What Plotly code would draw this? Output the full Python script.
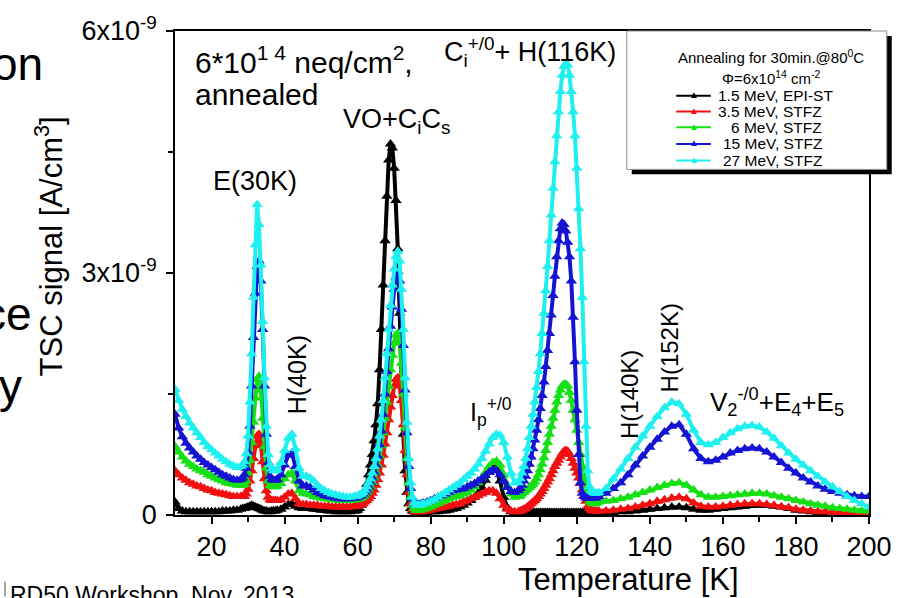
import plotly.graph_objects as go

# ---------------------------------------------------------------------------
# TSC spectra after annealing (30 min @ 80 C), fluence 6e14 neq/cm^2
# Signal values are given in units of 1e-9 A/cm^3
# ---------------------------------------------------------------------------

temperature_K = [
    10, 11, 12, 13, 14, 15, 16, 17, 18, 19, 20, 21, 22, 23, 24, 25, 26, 27, 28,
    28.5, 29, 29.5, 30, 30.5, 31, 31.5, 32, 32.5, 33, 33.5, 34, 34.5, 35, 35.5, 36, 36.5, 37, 37.5, 38,
    39, 40, 41, 42, 43, 44, 45, 46, 47, 48, 49, 50, 51, 52, 53, 54, 55, 56, 57, 58, 59,
    59.5, 60, 60.5, 61, 61.5, 62, 62.5, 63, 63.5, 64, 64.5, 65, 65.5, 66, 66.5, 67, 67.5, 68, 68.5, 69,
    69.5, 70, 70.5, 71, 71.5, 72, 72.5, 73, 73.5, 74, 74.5, 75, 75.5, 76, 76.5, 77, 77.5, 78,
    79, 80, 81, 82, 83, 84, 85, 86, 87, 88, 89, 90, 91, 92, 93, 94, 95, 96, 97, 98, 99, 100, 101, 102, 103, 104,
    104.5, 105, 105.5, 106, 106.5, 107, 107.5, 108, 108.5, 109, 109.5, 110, 110.5, 111, 111.5, 112, 112.5,
    113, 113.5, 114, 114.5, 115, 115.5, 116, 116.5, 117, 117.5, 118, 118.5, 119, 119.5, 120, 120.5, 121,
    121.5, 122, 122.5, 123, 123.5, 124, 124.5, 125, 125.5, 126,
    128, 130, 132, 134, 136, 138, 140, 142, 144, 146, 148, 150, 152, 154, 156, 158, 160, 162, 164, 166,
    168, 170, 172, 174, 176, 178, 180, 182, 184, 186, 188, 190, 192, 194, 196, 198, 200,
]

sig_1p5MeV_epi = [
    0.16, 0.08, 0.05, 0.04, 0.04, 0.04, 0.04, 0.04, 0.04, 0.04, 0.04, 0.04, 0.04, 0.05, 0.05, 0.05, 0.06, 0.06, 0.07,
    0.08, 0.08, 0.09, 0.10, 0.11, 0.12, 0.11, 0.10, 0.09, 0.08, 0.07, 0.06, 0.05, 0.05, 0.04, 0.04, 0.05, 0.05, 0.05, 0.06,
    0.07, 0.10, 0.13, 0.14, 0.11, 0.09, 0.08, 0.08, 0.08, 0.07, 0.07, 0.06, 0.06, 0.05, 0.05, 0.04, 0.04, 0.04, 0.04, 0.04, 0.05,
    0.05, 0.06, 0.08, 0.12, 0.18, 0.27, 0.38, 0.50, 0.62, 0.75, 0.92, 1.12, 1.38, 1.80, 2.30, 2.85, 3.40, 3.95, 4.40, 4.60,
    4.55, 4.30, 3.90, 3.30, 2.50, 1.70, 1.00, 0.55, 0.28, 0.14, 0.08, 0.05, 0.04, 0.03, 0.03, 0.03, 0.03, 0.03,
    0.03, 0.04, 0.04, 0.04, 0.05, 0.05, 0.06, 0.07, 0.08, 0.10, 0.12, 0.15, 0.18, 0.22, 0.27, 0.34, 0.43, 0.53, 0.60, 0.57,
    0.42, 0.22, 0.09, 0.04, 0.03, 0.03,
    0.03, 0.03, 0.03, 0.03, 0.03, 0.03, 0.03, 0.03, 0.03, 0.03, 0.03, 0.03, 0.03, 0.03, 0.03, 0.03, 0.03,
    0.03, 0.03, 0.03, 0.03, 0.03, 0.03, 0.03, 0.03, 0.03, 0.03, 0.03, 0.03, 0.03, 0.03, 0.03, 0.03, 0.03,
    0.03, 0.03, 0.03, 0.03, 0.03, 0.03, 0.03, 0.03, 0.03, 0.03,
    0.03, 0.03, 0.04, 0.04, 0.05, 0.06, 0.07, 0.08, 0.09, 0.10, 0.10, 0.09, 0.07, 0.06, 0.06, 0.07, 0.08, 0.09, 0.10, 0.11,
    0.12, 0.12, 0.12, 0.11, 0.10, 0.08, 0.06, 0.05, 0.04, 0.03, 0.03, 0.02, 0.02, 0.02, 0.02, 0.02, 0.02,
]

sig_3p5MeV_stfz = [
    0.55, 0.50, 0.46, 0.43, 0.40, 0.38, 0.36, 0.35, 0.33, 0.31, 0.30, 0.28, 0.27, 0.26, 0.25, 0.24, 0.23, 0.23, 0.23,
    0.23, 0.23, 0.26, 0.32, 0.42, 0.55, 0.70, 0.86, 0.98, 1.00, 0.88, 0.66, 0.45, 0.30, 0.22, 0.19, 0.18, 0.18, 0.18, 0.18,
    0.19, 0.22, 0.26, 0.27, 0.20, 0.14, 0.13, 0.13, 0.12, 0.12, 0.12, 0.11, 0.11, 0.11, 0.10, 0.10, 0.10, 0.10, 0.10, 0.10, 0.11,
    0.11, 0.11, 0.12, 0.13, 0.14, 0.16, 0.18, 0.20, 0.23, 0.27, 0.31, 0.37, 0.44, 0.52, 0.62, 0.74, 0.88, 1.02, 1.18, 1.34,
    1.48, 1.60, 1.68, 1.70, 1.62, 1.42, 1.12, 0.80, 0.50, 0.28, 0.14, 0.07, 0.05, 0.04, 0.04, 0.04, 0.04, 0.05,
    0.05, 0.06, 0.07, 0.08, 0.09, 0.10, 0.11, 0.12, 0.13, 0.14, 0.16, 0.18, 0.20, 0.22, 0.24, 0.26, 0.28, 0.30, 0.30, 0.27,
    0.20, 0.12, 0.07, 0.05, 0.04, 0.04,
    0.05, 0.06, 0.07, 0.08, 0.10, 0.12, 0.14, 0.16, 0.18, 0.20, 0.23, 0.26, 0.29, 0.33, 0.37, 0.41, 0.45,
    0.50, 0.55, 0.60, 0.64, 0.68, 0.72, 0.76, 0.79, 0.80, 0.79, 0.75, 0.70, 0.64, 0.58, 0.52, 0.46, 0.39,
    0.31, 0.24, 0.17, 0.11, 0.08, 0.06, 0.05, 0.05, 0.05, 0.05,
    0.05, 0.06, 0.07, 0.08, 0.10, 0.12, 0.14, 0.17, 0.19, 0.21, 0.22, 0.20, 0.15, 0.11, 0.10, 0.10, 0.11, 0.12, 0.13, 0.14,
    0.14, 0.14, 0.13, 0.12, 0.10, 0.09, 0.07, 0.06, 0.05, 0.04, 0.04, 0.03, 0.03, 0.02, 0.02, 0.02, 0.02,
]

sig_6MeV_stfz = [
    0.85, 0.78, 0.72, 0.67, 0.63, 0.60, 0.57, 0.55, 0.53, 0.50, 0.48, 0.46, 0.44, 0.42, 0.40, 0.39, 0.38, 0.37, 0.37,
    0.37, 0.38, 0.42, 0.52, 0.68, 0.90, 1.15, 1.45, 1.68, 1.72, 1.55, 1.20, 0.85, 0.58, 0.42, 0.37, 0.36, 0.35, 0.35, 0.36,
    0.39, 0.45, 0.50, 0.52, 0.42, 0.30, 0.27, 0.26, 0.25, 0.23, 0.22, 0.21, 0.20, 0.20, 0.19, 0.19, 0.18, 0.18, 0.18, 0.18, 0.19,
    0.19, 0.20, 0.20, 0.21, 0.23, 0.25, 0.28, 0.31, 0.35, 0.40, 0.46, 0.53, 0.62, 0.73, 0.86, 1.02, 1.20, 1.40, 1.60, 1.80,
    1.98, 2.13, 2.23, 2.25, 2.15, 1.88, 1.50, 1.08, 0.70, 0.40, 0.22, 0.12, 0.08, 0.06, 0.06, 0.06, 0.07, 0.07,
    0.08, 0.10, 0.12, 0.14, 0.16, 0.18, 0.20, 0.22, 0.23, 0.24, 0.26, 0.28, 0.31, 0.35, 0.40, 0.46, 0.53, 0.60, 0.65, 0.67,
    0.62, 0.50, 0.36, 0.26, 0.22, 0.23,
    0.24, 0.26, 0.28, 0.30, 0.32, 0.34, 0.36, 0.38, 0.41, 0.45, 0.50, 0.56, 0.63, 0.71, 0.80, 0.90, 1.00,
    1.10, 1.20, 1.30, 1.40, 1.48, 1.55, 1.60, 1.62, 1.62, 1.60, 1.52, 1.42, 1.30, 1.18, 1.05, 0.90, 0.75,
    0.60, 0.45, 0.32, 0.22, 0.17, 0.15, 0.14, 0.14, 0.15, 0.16,
    0.17, 0.18, 0.20, 0.22, 0.25, 0.28, 0.31, 0.34, 0.37, 0.39, 0.40, 0.37, 0.31, 0.25, 0.22, 0.22, 0.23, 0.24, 0.25, 0.26,
    0.27, 0.27, 0.26, 0.24, 0.22, 0.20, 0.18, 0.16, 0.14, 0.12, 0.11, 0.09, 0.08, 0.07, 0.06, 0.05, 0.05,
]

sig_15MeV_stfz = [
    1.25, 1.08, 0.97, 0.89, 0.83, 0.78, 0.73, 0.69, 0.65, 0.62, 0.59, 0.56, 0.53, 0.50, 0.48, 0.46, 0.44, 0.43, 0.44,
    0.46, 0.50, 0.58, 0.78, 1.10, 1.60, 2.20, 2.75, 3.08, 3.15, 2.90, 2.30, 1.60, 1.00, 0.65, 0.48, 0.44, 0.43, 0.43, 0.44,
    0.50, 0.62, 0.74, 0.77, 0.60, 0.42, 0.36, 0.36, 0.34, 0.31, 0.28, 0.26, 0.24, 0.23, 0.22, 0.21, 0.20, 0.20, 0.20, 0.20, 0.21,
    0.21, 0.22, 0.23, 0.24, 0.26, 0.28, 0.31, 0.35, 0.40, 0.46, 0.53, 0.62, 0.73, 0.87, 1.04, 1.25, 1.50, 1.78, 2.06, 2.34,
    2.58, 2.80, 2.95, 3.02, 2.90, 2.55, 2.10, 1.55, 1.02, 0.60, 0.33, 0.20, 0.15, 0.13, 0.13, 0.13, 0.14, 0.15,
    0.16, 0.18, 0.20, 0.22, 0.24, 0.26, 0.28, 0.30, 0.31, 0.32, 0.33, 0.35, 0.37, 0.39, 0.42, 0.45, 0.49, 0.53, 0.56, 0.55,
    0.50, 0.42, 0.34, 0.29, 0.28, 0.30,
    0.33, 0.37, 0.42, 0.48, 0.55, 0.63, 0.72, 0.82, 0.93, 1.05, 1.18, 1.32, 1.48, 1.65, 1.84, 2.04, 2.25,
    2.48, 2.72, 2.96, 3.20, 3.40, 3.55, 3.62, 3.60, 3.52, 3.38, 3.20, 2.90, 2.45, 1.90, 1.30, 0.75, 0.40,
    0.27, 0.23, 0.21, 0.21, 0.21, 0.21, 0.21, 0.21, 0.22, 0.23,
    0.27, 0.33, 0.40, 0.50, 0.62, 0.73, 0.84, 0.94, 1.03, 1.10, 1.12, 1.00, 0.82, 0.70, 0.66, 0.68, 0.72, 0.77, 0.80, 0.82,
    0.83, 0.82, 0.78, 0.72, 0.65, 0.58, 0.52, 0.46, 0.41, 0.36, 0.32, 0.29, 0.27, 0.25, 0.24, 0.23, 0.23,
]

sig_27MeV_stfz = [
    1.56, 1.42, 1.31, 1.22, 1.14, 1.08, 1.02, 0.96, 0.90, 0.85, 0.81, 0.77, 0.73, 0.69, 0.66, 0.63, 0.61, 0.59, 0.60,
    0.62, 0.66, 0.76, 0.98, 1.40, 2.00, 2.70, 3.35, 3.85, 3.60, 3.10, 2.40, 1.70, 1.10, 0.75, 0.62, 0.57, 0.55, 0.55, 0.56,
    0.65, 0.80, 0.95, 1.00, 0.82, 0.58, 0.48, 0.48, 0.46, 0.42, 0.37, 0.33, 0.30, 0.28, 0.26, 0.25, 0.24, 0.23, 0.22, 0.22, 0.23,
    0.23, 0.24, 0.25, 0.26, 0.28, 0.31, 0.35, 0.40, 0.45, 0.52, 0.60, 0.70, 0.82, 0.98, 1.18, 1.42, 1.70, 2.00, 2.30, 2.60,
    2.85, 3.05, 3.20, 3.27, 3.15, 2.80, 2.30, 1.70, 1.15, 0.70, 0.40, 0.22, 0.15, 0.12, 0.12, 0.12, 0.13, 0.14,
    0.15, 0.17, 0.19, 0.22, 0.25, 0.28, 0.31, 0.34, 0.37, 0.40, 0.44, 0.48, 0.52, 0.57, 0.63, 0.70, 0.79, 0.88, 0.96, 1.00,
    0.99, 0.90, 0.72, 0.52, 0.40, 0.40,
    0.45, 0.52, 0.60, 0.70, 0.82, 0.96, 1.10, 1.25, 1.40, 1.58, 1.78, 2.00, 2.25, 2.50, 2.78, 3.08, 3.40,
    3.72, 4.05, 4.38, 4.70, 5.00, 5.25, 5.45, 5.56, 5.60, 5.58, 5.45, 5.25, 5.00, 4.70, 4.30, 3.80, 3.30,
    2.70, 1.90, 1.10, 0.55, 0.35, 0.30, 0.28, 0.27, 0.27, 0.28,
    0.33, 0.45, 0.57, 0.70, 0.84, 0.98, 1.10, 1.22, 1.33, 1.40, 1.38, 1.25, 1.05, 0.90, 0.87, 0.90, 0.96, 1.02, 1.07, 1.10,
    1.11, 1.09, 1.03, 0.95, 0.86, 0.77, 0.69, 0.62, 0.55, 0.48, 0.41, 0.35, 0.29, 0.23, 0.18, 0.14, 0.10,
]

series_labels = ["1.5 MeV, EPI-ST", "3.5 MeV, STFZ", "6 MeV, STFZ", "15 MeV, STFZ", "27 MeV, STFZ"]
series_values = [sig_1p5MeV_epi, sig_3p5MeV_stfz, sig_6MeV_stfz, sig_15MeV_stfz, sig_27MeV_stfz]
series_colors = ["#000000", "#f01010", "#14e014", "#1414d2", "#1ef0f0"]

y_tick_vals = [0, 3e-9, 6e-9]
y_tick_text = ["0", "3x10<sup>-9</sup>", "6x10<sup>-9</sup>"]
x_tick_vals = [20, 40, 60, 80, 100, 120, 140, 160, 180, 200]

for vals in series_values:
    assert len(vals) == len(temperature_K)

# ---------------------------------------------------------------------------
W, H = 904, 598
ML, MR, MT, MB = 175, 27, 22, 83
PW, PH = W - ML - MR, H - MT - MB
FONT = "Liberation Sans, Arial, Helvetica, sans-serif"


def xp(px):
    return (px - ML) / PW


def yp(py):
    return (H - MB - py) / PH


fig = go.Figure()
for label, vals, color in zip(series_labels, series_values, series_colors):
    fig.add_trace(go.Scatter(
        x=temperature_K,
        y=[v * 1e-9 for v in vals],
        mode="lines+markers",
        name=label,
        line=dict(color=color, width=4),
        marker=dict(symbol="triangle-up", size=10, color=color, line=dict(width=0)),
        showlegend=False,
    ))

annotations = []
shapes = []


def note(text, x, y, size, xanchor="center", yanchor="middle", angle=0, color="black"):
    annotations.append(dict(
        text=text, x=xp(x), y=yp(y), xref="paper", yref="paper",
        xanchor=xanchor, yanchor=yanchor, textangle=angle, showarrow=False,
        font=dict(family=FONT, size=size, color=color),
    ))


# axis titles
note("TSC signal [A/cm<sup>3</sup>]", 48, 241, 31, angle=-90)
note("Temperature [K]", 634, 581, 31)

# peak labels
note("6*10<sup>1 4</sup> neq/cm<sup>2</sup>,", 193, 52, 30, xanchor="left")
note("annealed", 193, 87, 30, xanchor="left")
note("C<sub>i</sub><sup>+/0</sup>+ H(116K)", 534, 43, 27)
note("VO+C<sub>i</sub>C<sub>s</sub>", 399, 114, 27)
note("E(30K)", 256, 175, 27)
note("H(40K)", 298, 372, 25, angle=-90)
note("I<sub>p</sub><sup>+/0</sup>", 495, 410, 25)
note("H(140K)", 634, 392, 24, angle=-90)
note("H(152K)", 675, 345, 24, angle=-90)
note("V<sub>2</sub><sup>-/0</sup>+E<sub>4</sub>+E<sub>5</sub>", 784, 400, 26)

# slide text around the chart
note("on", 43, 56, 46, xanchor="right")
note("ce", 32, 310, 46, xanchor="right")
note("y", 22, 384, 46, xanchor="right")
note("RD50 Workshop, Nov. 2013", 6, 581, 23, xanchor="left", yanchor="top")
shapes.append(dict(type="line", xref="paper", yref="paper", x0=xp(3), x1=xp(3), y0=yp(583), y1=yp(598),
                   line=dict(color="#888888", width=1.5)))

# legend box with drop shadow
shapes.append(dict(type="rect", xref="paper", yref="paper", x0=xp(637), x1=xp(900), y0=yp(27), y1=yp(168),
                   fillcolor="black", line=dict(width=0), layer="above"))
shapes.append(dict(type="rect", xref="paper", yref="paper", x0=xp(632), x1=xp(895), y0=yp(22), y1=yp(163),
                   fillcolor="white", line=dict(color="#8c8c8c", width=1), layer="above"))
note("Annealing for 30min.@80<sup>0</sup>C", 778, 48, 15)
note("\u03a6=6x10<sup>14</sup> cm<sup>-2</sup>", 778, 69, 15)
legend_rows = [88, 104, 120, 137, 154]
legend_text_x = [722, 722, 735, 727, 727]
for label, color, ry, tx in zip(series_labels, series_colors, legend_rows, legend_text_x):
    shapes.append(dict(type="line", xref="paper", yref="paper", x0=xp(682), x1=xp(717), y0=yp(ry), y1=yp(ry),
                       line=dict(color=color, width=2), layer="above"))
    note("\u25b2", 699.5, ry - 1, 10, color=color)
    note(label, tx, ry, 15.5, xanchor="left")

axis_common = dict(
    showline=True, linecolor="black", linewidth=1.5, mirror=True,
    ticks="outside", tickcolor="black", tickwidth=1.5, ticklen=7,
    showgrid=False, zeroline=False,
    tickfont=dict(family=FONT, size=27, color="black"),
)

fig.update_layout(
    width=W, height=H,
    margin=dict(l=ML, r=MR, t=MT, b=MB, pad=0),
    paper_bgcolor="white", plot_bgcolor="white",
    showlegend=False,
    xaxis=dict(range=[10, 200], tickvals=x_tick_vals, ticklabelstandoff=0,
               minor=dict(tickvals=[30, 50, 70, 90, 110, 130, 150, 170, 190], ticks="outside",
                          ticklen=5, tickwidth=1.5, tickcolor="black"),
               **axis_common),
    yaxis=dict(range=[0, 6e-9], tickvals=y_tick_vals, ticktext=y_tick_text, ticklabelstandoff=4,
               minor=dict(tickvals=[1.5e-9, 4.5e-9], ticks="outside", ticklen=5, tickwidth=1.5,
                          tickcolor="black"),
               **axis_common),
    annotations=annotations,
    shapes=shapes,
)

fig.write_html("out.html")
